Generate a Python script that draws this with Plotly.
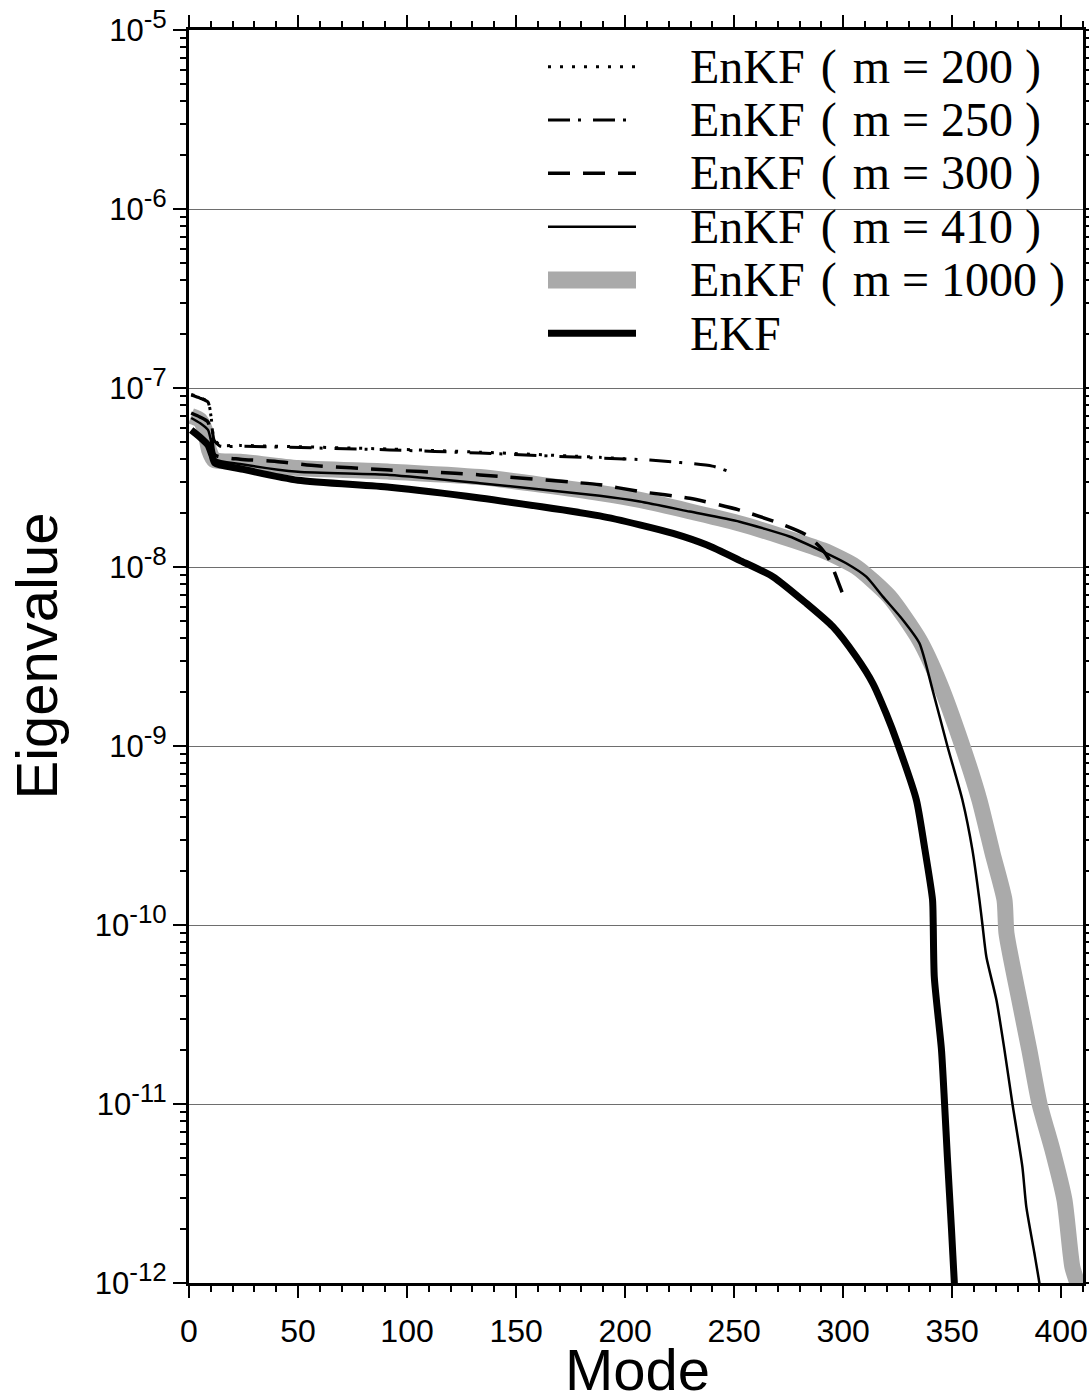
import plotly.graph_objects as go

# ---- eigenvalue spectra (mode index, eigenvalue) ----
ekf_mode = [1, 5, 8.7, 10.5, 11.9, 23.4, 50, 92, 133.4, 188.4, 206.7, 222, 237.3,
            252.5, 267.8, 283.1, 295.3, 306, 313.6, 319.7, 325, 333.6, 337.3, 341,
            341.3, 341.8, 345.1, 346.5, 347.8, 349.7, 351, 351.5]
ekf_val = [5.83e-8, 5.32e-8, 4.80e-8, 4.22e-8, 3.81e-8, 3.54e-8, 3.05e-8, 2.79e-8,
           2.43e-8, 1.93e-8, 1.72e-8, 1.54e-8, 1.33e-8, 1.09e-8, 8.83e-9, 6.27e-9,
           4.64e-9, 3.15e-9, 2.24e-9, 1.52e-9, 1.03e-9, 4.99e-10, 2.73e-10, 1.38e-10,
           1.03e-10, 5.12e-11, 2.0e-11, 1.01e-11, 5.06e-12, 1.98e-12, 1.0e-12, 8e-13]

m410_mode = [1, 5, 8.7, 10.5, 11.9, 23.4, 50, 92, 133.4, 188.4, 206.7, 229.6, 252.5,
             275.4, 290.7, 301.4, 310.6, 318.2, 327.4, 335, 341, 347.8, 354.7, 359.3,
             362.5, 363.9, 365.7, 370.3, 374, 377.6, 382.2, 384, 387.7, 390, 391]
m410_val = [6.80e-8, 6.37e-8, 5.83e-8, 4.80e-8, 4.01e-8, 3.76e-8, 3.40e-8, 3.27e-8,
            2.94e-8, 2.50e-8, 2.32e-8, 2.04e-8, 1.79e-8, 1.48e-8, 1.22e-8, 1.05e-8,
            8.83e-9, 6.83e-9, 5.06e-9, 3.75e-9, 2.06e-9, 1.0e-9, 4.99e-10, 2.62e-10,
            1.38e-10, 1.0e-10, 6.62e-11, 3.81e-11, 2.0e-11, 1.01e-11, 4.45e-12,
            2.66e-12, 1.47e-12, 1.0e-12, 8e-13]

m1000_mode = [1, 5, 7.3, 9.2, 11.5, 23.4, 50, 92, 133.4, 188.4, 206.7, 252.5, 290.7,
              306, 321.2, 335, 344.2, 354.7, 362.5, 368.5, 374, 374.9, 380.8, 385.4,
              390, 396, 401.5, 405.1, 407.4, 410]
m1000_val = [6.98e-8, 6.63e-8, 5.83e-8, 4.50e-8, 3.96e-8, 3.88e-8, 3.57e-8, 3.41e-8,
             3.18e-8, 2.59e-8, 2.37e-8, 1.75e-8, 1.24e-8, 1.0e-8, 6.83e-9, 3.91e-9,
             2.25e-9, 1.0e-9, 4.99e-10, 2.52e-10, 1.38e-10, 9.0e-11, 3.81e-11,
             2.0e-11, 1.01e-11, 5.53e-12, 2.91e-12, 1.23e-12, 1.0e-12, 8e-13]

m300_mode = [1, 5, 8.7, 10.5, 11.9, 23.4, 40, 56, 92, 122, 133.4, 188.4, 206.7, 229.6,
             252.5, 270.9, 283.1, 290, 293.8, 296.8, 299.1, 300]
m300_val = [7.25e-8, 6.89e-8, 6.46e-8, 5.12e-8, 4.22e-8, 4.00e-8, 3.89e-8, 3.70e-8,
            3.48e-8, 3.34e-8, 3.27e-8, 2.88e-8, 2.64e-8, 2.42e-8, 2.08e-8, 1.75e-8,
            1.51e-8, 1.27e-8, 1.09e-8, 8.83e-9, 7.44e-9, 7.0e-9]

m250_mode = [1, 5, 8.7, 10, 11.5, 14.2, 23.4, 92, 133.4, 188.4, 211.3, 240, 249.3, 250]
m250_val = [9.14e-8, 8.79e-8, 8.35e-8, 7.07e-8, 5.12e-8, 4.74e-8, 4.73e-8, 4.51e-8,
            4.33e-8, 4.06e-8, 3.96e-8, 3.66e-8, 3.35e-8, 3.30e-8]

m200_mode = [1, 5, 8.7, 10, 11.5, 14.2, 23.4, 92, 133.4, 188.4, 200]
m200_val = [9.20e-8, 8.85e-8, 8.40e-8, 7.15e-8, 5.20e-8, 4.80e-8, 4.78e-8, 4.56e-8,
            4.38e-8, 4.10e-8, 4.02e-8]

legend_labels = ["EnKF\u2004(\u2004m = 200 )", "EnKF\u2004(\u2004m = 250 )",
                 "EnKF\u2004(\u2004m = 300 )", "EnKF\u2004(\u2004m = 410 )",
                 "EnKF\u2004(\u2004m = 1000 )", "EKF"]

y_tick_exp = [-12, -11, -10, -9, -8, -7, -6, -5]
x_tick_vals = [0, 50, 100, 150, 200, 250, 300, 350, 400]

GRAY = "#aaaaaa"
DOT = "3px,9px"
DASHDOT = "22px,8px,3px,12px"
DASH = "22px,13px"

fig = go.Figure()

series = [
    (m1000_mode, m1000_val, dict(color=GRAY, width=16)),
    (ekf_mode, ekf_val, dict(color="black", width=7)),
    (m410_mode, m410_val, dict(color="black", width=2.5)),
    (m300_mode, m300_val, dict(color="black", width=3.5, dash=DASH)),
    (m250_mode, m250_val, dict(color="black", width=3, dash=DASHDOT)),
    (m200_mode, m200_val, dict(color="black", width=3, dash=DOT)),
]
for xs, ys, ln in series:
    ln = dict(ln, shape="spline", smoothing=0.6)
    fig.add_trace(go.Scatter(x=xs, y=ys, mode="lines", line=ln, showlegend=False,
                             hoverinfo="skip"))

# ---- legend drawn in paper coordinates ----
W, H = 1089, 1400
L, R, T, B = 189, 6, 30, 117
PW, PH = W - L - R, H - T - B


def px_x(p):
    return (p - L) / PW


def px_y(p):
    return 1 - (p - T) / PH


legend_styles = [
    dict(color="black", width=3, dash=DOT),
    dict(color="black", width=3, dash=DASHDOT),
    dict(color="black", width=3.5, dash=DASH),
    dict(color="black", width=2.5),
    dict(color=GRAY, width=17),
    dict(color="black", width=7),
]
row_y = [66.7, 120, 173.3, 226.7, 280, 333.3]
for lbl, st, ry in zip(legend_labels, legend_styles, row_y):
    fig.add_shape(type="line", xref="paper", yref="paper",
                  x0=px_x(548), x1=px_x(636), y0=px_y(ry), y1=px_y(ry), line=st)
    fig.add_annotation(text=lbl, xref="paper", yref="paper", x=px_x(688), y=px_y(ry),
                       xanchor="left", yanchor="middle", showarrow=False,
                       font=dict(family="Liberation Serif", size=48, color="black"))

# ---- axis titles ----
fig.add_annotation(text="Eigenvalue", xref="paper", yref="paper", x=px_x(36), y=0.5,
                   xanchor="center", yanchor="middle", textangle=-90, showarrow=False,
                   font=dict(family="Liberation Sans", size=58, color="black"))
fig.add_annotation(text="Mode", xref="paper", yref="paper", x=px_x(637), y=px_y(1369),
                   xanchor="center", yanchor="middle", showarrow=False,
                   font=dict(family="Liberation Sans", size=58, color="black"))

y_minor = [m * 10.0 ** e for e in y_tick_exp[:-1] for m in range(2, 10)]

fig.update_xaxes(
    range=[0, 410], tickvals=x_tick_vals, ticktext=[str(v) for v in x_tick_vals],
    automargin=False,
    showgrid=False, zeroline=False, showline=True, linecolor="black", linewidth=3,
    mirror="allticks", ticks="outside", ticklen=12, tickwidth=2, tickcolor="black",
    tickfont=dict(family="Liberation Sans", size=32, color="black"),
    ticklabelstandoff=6,
    minor=dict(ticks="outside", ticklen=6, tickwidth=1.5, tickcolor="black",
               dtick=10, tick0=0, showgrid=False),
)
fig.update_yaxes(
    type="log", range=[-12, -5], automargin=False,
    tickvals=[10.0 ** e for e in y_tick_exp],
    ticktext=["10<sup><span style=\"font-size:26px\">%d</span></sup>" % e for e in y_tick_exp],
    showgrid=True, gridcolor="#6e6e6e", gridwidth=1.2, zeroline=False,
    showline=True, linecolor="black", linewidth=3, mirror="allticks",
    ticks="outside", ticklen=13, tickwidth=2, tickcolor="black",
    tickfont=dict(family="Liberation Sans", size=31, color="black"),
    minor=dict(ticks="outside", ticklen=6, tickwidth=1.5, tickcolor="black",
               tickvals=y_minor, showgrid=False),
)

fig.update_layout(
    template="none",
    width=W, height=H,
    margin=dict(l=L, r=R, t=T, b=B),
    plot_bgcolor="white", paper_bgcolor="white",
    showlegend=False,
)

fig.write_html("out.html")
